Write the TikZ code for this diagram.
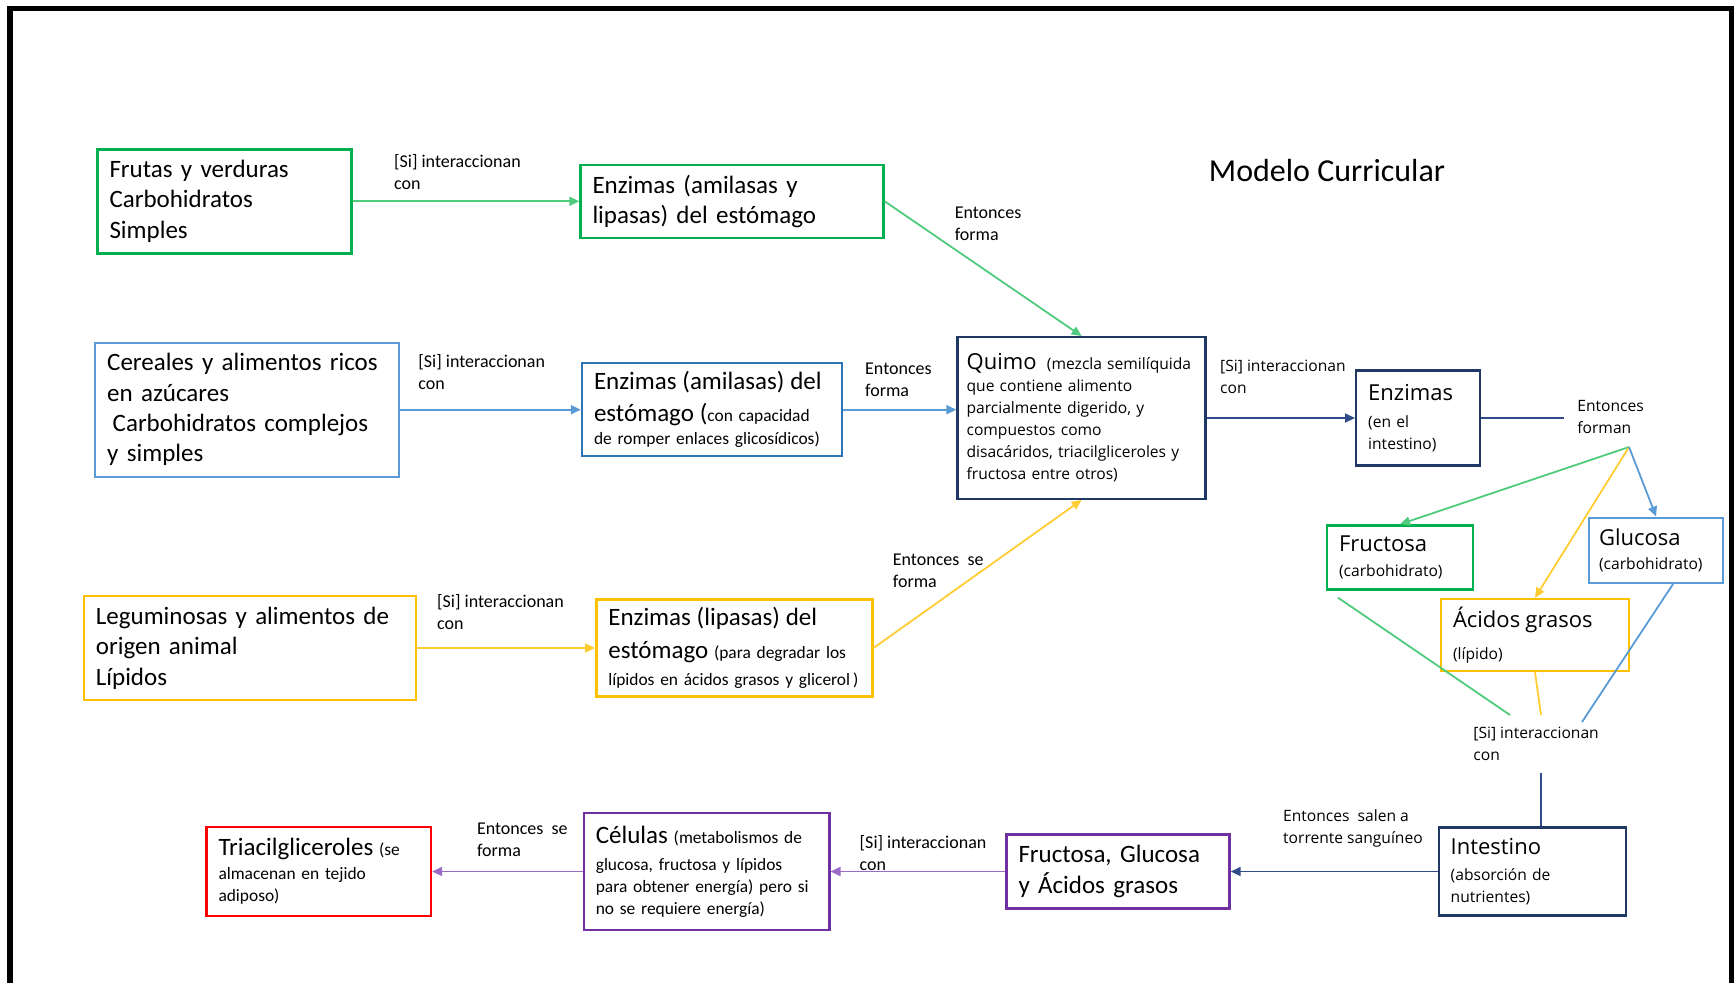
\documentclass[tikz,border=0pt]{standalone}
\usepackage{fontspec}
\setmainfont{Carlito}
\newfontfamily\segoe{Open Sans}
\usepackage{tikz}
\usetikzlibrary{positioning,arrows.meta}
\definecolor{verde}{HTML}{00B050}
\definecolor{verdelinea}{HTML}{4FCB7E}
\definecolor{azul}{HTML}{5B9BD5}
\definecolor{azuloscuro}{HTML}{2E75B6}
\definecolor{marino}{HTML}{1F3864}
\definecolor{marinolinea}{HTML}{2F4B8A}
\definecolor{amarillo}{HTML}{FFC000}
\definecolor{amarillolinea}{HTML}{FFCD33}
\definecolor{morado}{HTML}{7030A0}
\definecolor{moradolinea}{HTML}{9B6BC8}
\definecolor{rojo}{HTML}{FF0000}
\newcommand\grande{\fontsize{12.5pt}{15.2pt}\selectfont}
\newcommand\chico{\fontsize{9pt}{11pt}\selectfont}
\newcommand\chicob{\fontsize{8.7pt}{11pt}\selectfont}
\newcommand\sgrande{\segoe\fontsize{11pt}{13pt}\selectfont}
\newcommand\schico{\segoe\fontsize{7.8pt}{11pt}\selectfont}

\begin{document}
\begin{tikzpicture}[x=0.5pt, y=-0.5pt,
  caja/.style={rectangle, draw, line width=1.2pt, align=left, inner xsep=6pt, inner ysep=2pt},
  etiqueta/.style={align=left, inner sep=0pt, anchor=west, font=\chico},
  setiqueta/.style={align=left, inner sep=0pt, anchor=west, font=\schico},
  flecha/.style={line width=0.9pt, -{Triangle[length=5pt,width=4.5pt]}},
  linea/.style={line width=0.9pt}]

        \useasboundingbox (0,0) rectangle (1734,982);
        \draw[line width=2.75pt] (10,990) -- (10,8.5) -- (1732,8.5) -- (1732,990);

        \node[font=\fontsize{16pt}{19pt}\selectfont] (titulo) at (1327,170) {Modelo Curricular};

        \node[caja, draw=verde, font=\grande, text width=115pt, minimum height=52pt] (frutas) at (224.5,201.3) {Frutas y verduras\\Carbohidratos\\Simples};
        \node[caja, draw=verde, font=\grande, text width=139.5pt, minimum height=36.5pt] (enzA) [right=113.3pt of frutas] {Enzimas (amilasas y\\lipasas) del estómago};

        \node[caja, draw=azul, font=\grande, text width=140pt, minimum height=67pt] (cereales) at (247.2,409.7) {Cereales y alimentos ricos\\en azúcares\\\hspace{0.22em}Carbohidratos complejos\\y simples};
        \node[caja, draw=azuloscuro, font=\chicob, text width=118pt, minimum height=46.5pt] (enzB) [right=90.2pt of cereales] {{\grande Enzimas (amilasas) del}\\[5pt]{\grande estómago (}con capacidad\\[0.6pt]de romper enlaces glicosídicos)};

        \node[caja, draw=amarillo, font=\grande, text width=154pt, minimum height=52pt] (legum) at (249.9,648) {Leguminosas y alimentos de\\origen animal\\Lípidos};
        \node[caja, draw=amarillo, font=\chicob, text width=126pt, minimum height=48.5pt] (enzL) [right=89pt of legum] {{\grande Enzimas (lipasas) del}\\[5.6pt]{\grande estómago} (para degradar los\\[2.3pt]lípidos en ácidos grasos y glicerol\,)};

        \node[caja, draw=marino, font=\schico, inner xsep=4.5pt, text width=115pt, minimum height=80.75pt] (quimo) at (1081.6,418) {{\sgrande Quimo}\ \ (mezcla semilíquida\\que contiene alimento\\parcialmente digerido, y\\compuestos como\\disacáridos, triacilgliceroles y\\fructosa entre otros)};
        \node[caja, draw=marino, font=\schico, text width=50pt, minimum height=47.5pt] (enzI) [right=74.1pt of quimo] {{\sgrande Enzimas}\\[2.4pt](en el\\intestino)};

        \node[caja, draw=verde, font=\schico, text width=61pt, minimum height=32pt] (fructosa) at (1400.1,557.4) {{\sgrande Fructosa}\\[1.3pt](carbohidrato)};
        \node[caja, draw=azul, font=\schico, inner xsep=5pt, text width=57pt, minimum height=32.5pt] (glucosa) at (1656.1,550.2) {{\sgrande Glucosa}\\[1.3pt](carbohidrato)};
        \node[caja, draw=amarillo, font=\schico, text width=82pt, minimum height=36pt] (acidos) at (1535,635) {{\sgrande Ácidos grasos}\\[5pt](lípido)};

        \node[caja, draw=marino, font=\schico, text width=81.5pt, minimum height=44pt] (intest) at (1532.2,871.5) {{\sgrande Intestino}\\[1.8pt](absorción de\\nutrientes)};
        \node[caja, draw=morado, font=\grande, text width=99.5pt, minimum height=37pt] (fga) [left=103.4pt of intest] {Fructosa, Glucosa\\y Ácidos grasos};
        \node[caja, draw=morado, font=\chicob, text width=110.75pt, minimum height=58.5pt] (celulas) [left=87.4pt of fga] {{\grande Células} (metabolismos de\\[2.3pt]glucosa, fructosa y lípidos\\para obtener energía) pero si\\no se requiere energía)};
        \node[caja, draw=rojo, font=\chicob, text width=100.25pt, minimum height=44.25pt] (triacil) [left=75.2pt of celulas] {{\grande Triacilgliceroles} (se\\[1.2pt]almacenan en tejido\\adiposo)};

        \node[etiqueta] (si1) at (393.7,172.5) {[Si] interaccionan\\con};
        \node[etiqueta] (si2) at (418,371.6) {[Si] interaccionan\\con};
        \node[etiqueta] (si3) at (436.8,611.6) {[Si] interaccionan\\con};
        \node[etiqueta] (forma1) at (954.4,223.4) {Entonces\\forma};
        \node[etiqueta] (forma2) at (864.8,379.3) {Entonces\\forma};
        \node[etiqueta] (forma3) at (892.5,570.6) {Entonces\ \ se\\forma};
        \node[setiqueta] (si4) at (1219.8,377.1) {[Si] interaccionan\\con};
        \node[setiqueta] (forman) at (1577,417) {Entonces\\forman};
        \node[setiqueta] (si5) at (1473,743.7) {[Si] interaccionan\\con};
        \node[setiqueta] (salen) at (1282.8,828.3) {Entonces\ \ salen a\\torrente sanguíneo};
        \node[etiqueta] (si6) at (859.3,852.6) {[Si] interaccionan\\con};
        \node[etiqueta] (forma4) at (476.6,839.4) {Entonces\ \ se\\forma};

        \coordinate (finE) at (1564,418);
        \coordinate (divide) at (1629,447);
        \coordinate (uneV) at (1510,715);
        \coordinate (uneA) at (1541,715);
        \coordinate (uneZ) at (1582,722);
        \coordinate (bajaI) at (1541,773);

        \draw[flecha, verdelinea] (frutas) -- (enzA);
        \draw[flecha, verdelinea] (enzA.east) -- (quimo.north);
        \draw[flecha, azul] (cereales) -- (enzB);
        \draw[flecha, azul] (enzB.east) -- (enzB.east -| quimo.west);
        \draw[flecha, amarillolinea] (legum) -- (enzL);
        \draw[flecha, amarillolinea] (enzL.east) -- (quimo.south);
        \draw[flecha, marinolinea] (quimo) -- (enzI);
        \draw[linea, marinolinea] (enzI) -- (finE);
        \draw[flecha, verdelinea] (divide) -- (fructosa.north);
        \draw[flecha, amarillolinea] (divide) -- (acidos.north);
        \draw[flecha, azul] (divide) -- (glucosa.north);
        \draw[linea, verdelinea] ([xshift=6pt,yshift=-3.5pt]fructosa.south west) -- (uneV);
        \draw[linea, amarillolinea] (acidos.south) -- (uneA);
        \draw[linea, azul] ([xshift=8.5pt]glucosa.south) -- (uneZ);
        \draw[linea, marinolinea] (bajaI) -- (bajaI |- intest.north);
        \draw[flecha, marinolinea] (intest) -- (fga);
        \draw[flecha, moradolinea] (fga) -- (celulas);
        \draw[flecha, moradolinea] (celulas) -- (triacil);

        \end{tikzpicture}
\end{document}
